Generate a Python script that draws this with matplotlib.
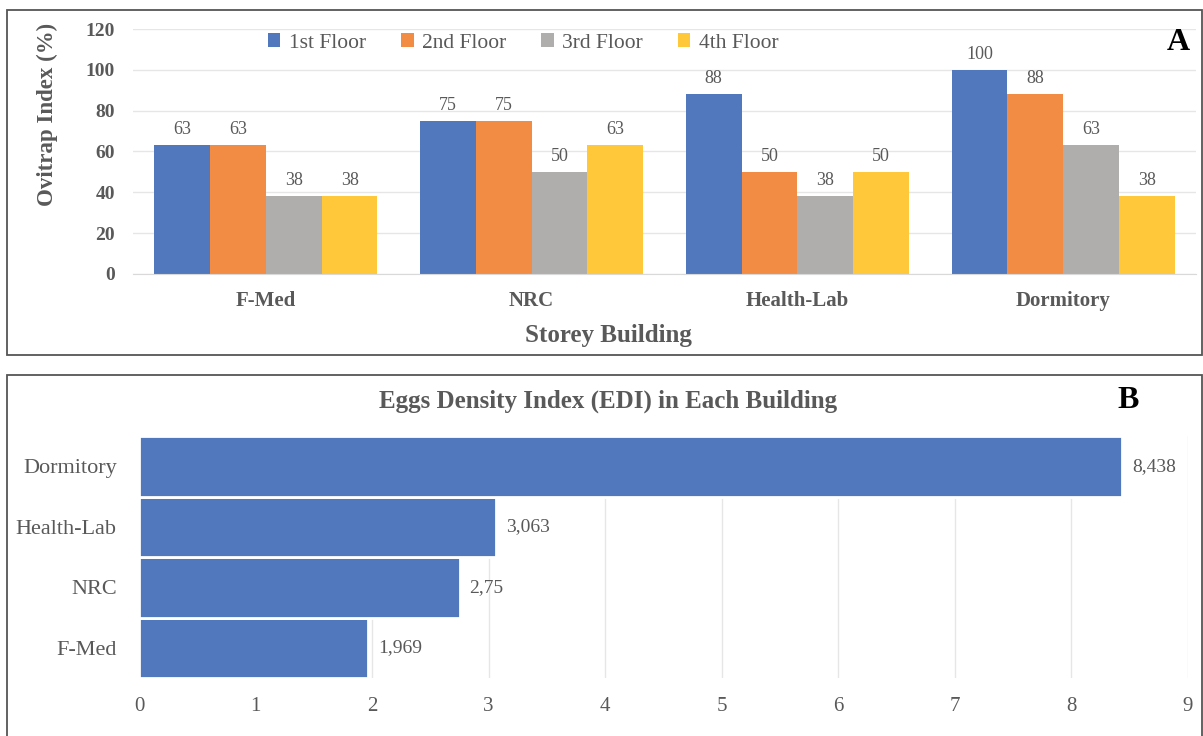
import numpy as np
import matplotlib
matplotlib.use('Agg')
import matplotlib.pyplot as plt
from matplotlib.patches import Rectangle

plt.rcParams['font.family'] = ['Liberation Serif', 'DejaVu Serif']

# --- panel A data: ovitrap index per floor
buildings = ['F-Med', 'NRC', 'Health-Lab', 'Dormitory']
floors = ['1st Floor', '2nd Floor', '3rd Floor', '4th Floor']
floor_1 = [63, 75, 88, 100]
floor_2 = [63, 75, 50, 88]
floor_3 = [38, 50, 38, 63]
floor_4 = [38, 63, 50, 38]

# --- panel B data: eggs density index
edi_buildings = ['F-Med', 'NRC', 'Health-Lab', 'Dormitory']
edi_values = [1.969, 2.75, 3.063, 8.438]
edi_labels = ['1,969', '2,75', '3,063', '8,438']

colors = ['#5177BD', '#F28C44', '#AFAEAC', '#FEC83A']
txt = '#595959'
grid = '#E6E6E6'

fig = plt.figure(figsize=(12.03, 7.36), dpi=100)

# panel frames
fig.patches.append(Rectangle((7/1203, 1-355/736), 1195/1203, 345/736,
                             transform=fig.transFigure, fill=False,
                             edgecolor='#555555', linewidth=1.3))
fig.patches.append(Rectangle((7/1203, -0.05), 1195/1203, 0.05+1-375/736,
                             transform=fig.transFigure, fill=False,
                             edgecolor='#555555', linewidth=1.3))

# ---------------- panel A
axA = fig.add_axes([133/1203, 1-274/736, 1063/1203, 245/736])
x = np.arange(len(buildings))
w = 0.21
series = [floor_1, floor_2, floor_3, floor_4]
for i, (vals, lab, c) in enumerate(zip(series, floors, colors)):
    bars = axA.bar(x + (i-1.5)*w, vals, w, color=c, label=lab, zorder=2)
    axA.bar_label(bars, labels=[str(v) for v in vals], padding=5,
                  fontsize=13, color=txt)

axA.set_xlim(-0.5, 3.5)
axA.set_ylim(0, 120)
axA.set_yticks(range(0, 121, 20))
axA.set_xticks(x)
axA.set_xticklabels(buildings, fontweight='bold', fontsize=15, color=txt)
for t in axA.get_yticklabels():
    t.set_fontweight('bold')
axA.tick_params(axis='y', labelsize=14, labelcolor=txt, length=0, pad=13)
axA.tick_params(axis='x', length=0, pad=12)
axA.yaxis.grid(True, color=grid, linewidth=1, zorder=0)
axA.set_axisbelow(True)
for s in ['top', 'right', 'left']:
    axA.spines[s].set_visible(False)
axA.spines['bottom'].set_color('#D9D9D9')
axA.set_xlabel('Storey Building', fontsize=18, fontweight='bold', color=txt)
axA.xaxis.set_label_coords(0.447, -0.205)
axA.set_ylabel('Ovitrap Index (%)', fontsize=16.5, fontweight='bold', color=txt)
axA.yaxis.set_label_coords(-0.071, 0.65)
axA.legend(loc='center', bbox_to_anchor=(0.367, 0.943), ncol=4, frameon=False,
           fontsize=15.5, handlelength=0.6, handleheight=0.6, handletextpad=0.4,
           columnspacing=1.6, labelcolor=txt)
fig.text(1178/1203, 1-43/736, 'A', fontsize=23, fontweight='bold',
         ha='center', va='center')

# ---------------- panel B
axB = fig.add_axes([139/1203, 1-678/736, 1049/1203, 242/736])
yb = np.arange(len(edi_buildings))
bars = axB.barh(yb, edi_values, height=1.0, color=colors[0],
                edgecolor='white', linewidth=2, zorder=2)
axB.bar_label(bars, labels=edi_labels, padding=7, fontsize=14, color=txt)
axB.set_xlim(0, 9)
axB.set_ylim(-0.5, 3.5)
axB.set_xticks(range(0, 10))
axB.set_yticks(yb)
axB.set_yticklabels(edi_buildings)
axB.tick_params(axis='y', labelsize=16, labelcolor=txt, length=0, pad=16)
axB.tick_params(axis='x', labelsize=15, labelcolor=txt, length=0, pad=14)
axB.xaxis.grid(True, color=grid, linewidth=1, zorder=0)
axB.set_axisbelow(True)
for s in axB.spines.values():
    s.set_visible(False)
fig.text(608/1203, 1-401/736, 'Eggs Density Index (EDI) in Each Building',
         fontsize=18, fontweight='bold', color=txt, ha='center', va='center')
fig.text(1128/1203, 1-401/736, 'B', fontsize=23, fontweight='bold',
         ha='center', va='center')

fig.savefig('out.png', dpi=100)
